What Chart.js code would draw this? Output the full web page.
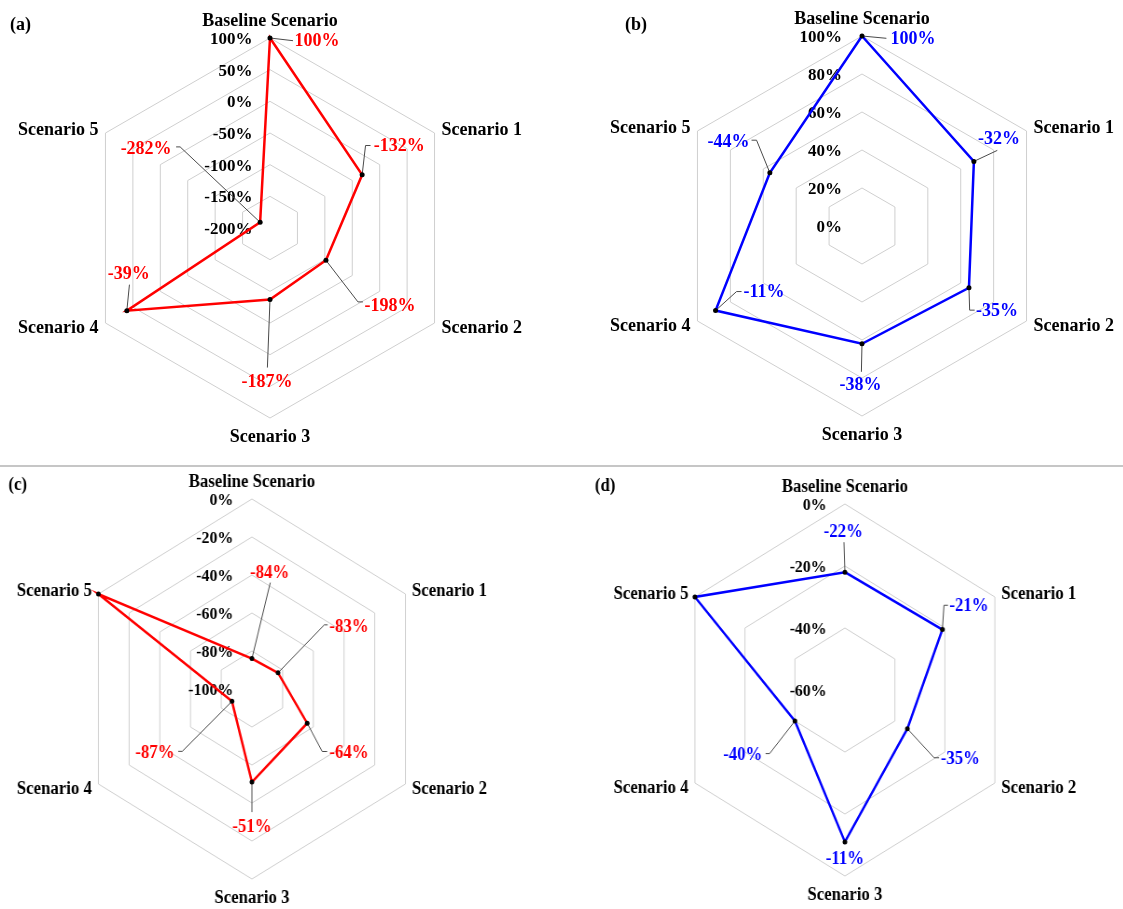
<!DOCTYPE html>
<html>
<head>
<meta charset="utf-8">
<title>Scenario radar charts</title>
<script src="https://cdn.jsdelivr.net/npm/chart.js@4.4.1/dist/chart.umd.min.js"></script>
<style>
  html, body { margin: 0; padding: 0; background: #fff; }
  body { width: 1123px; height: 909px; position: relative; overflow: hidden; }
  .panel { position: absolute; transform-origin: 0 0; }
  .panel canvas { display: block; }
  #sep { position: absolute; left: 0; top: 465px; width: 1123px; height: 2px; background: #c6c6c6; }
</style>
</head>
<body>
<div class="panel" style="left:0;top:0"><canvas id="chartA" width="560" height="460"></canvas></div>
<div class="panel" style="left:560px;top:0"><canvas id="chartB" width="563" height="460"></canvas></div>
<div class="panel" style="left:0;top:460px;transform:scaleX(0.933)"><canvas id="chartC" width="600" height="449"></canvas></div>
<div class="panel" style="left:560px;top:460px;transform:scaleX(0.931)"><canvas id="chartD" width="605" height="449"></canvas></div>
<div id="sep"></div>
<script>
// Axis categories, clockwise from the top
const categories = ['Baseline Scenario', 'Scenario 1', 'Scenario 2', 'Scenario 3', 'Scenario 4', 'Scenario 5'];

// (a) and (b): level of each scenario on the axis scale (baseline = 100 %)
const levelsA = [100, -32, -98, -87, 61, -182];
const levelsB = [100, 68, 65, 62, 89, 56];

// (c) and (d): change of each scenario, Scenario 5 is the reference (0 %)
const valuesC = [-84, -83, -64, -51, -87, 0];
const valuesD = [-22, -21, -35, -11, -40, 0];

// Radial axis tick values
const ticksA = [-200, -150, -100, -50, 0, 50, 100];
const ticksB = [0, 20, 40, 60, 80, 100];
const ticksC = [-100, -80, -60, -40, -20, 0];
const ticksD = [-60, -40, -20, 0];

// Label text: baseline shows its own level, scenarios show their change from the baseline
const changeFromBaseline = (vals) => vals.map((v, i) => (i === 0 ? v : v - vals[0]));
// Label text: each point shows its own value, the reference scenario stays unlabelled
const ownValue = (vals) => vals.map((v, i) => (i === vals.length - 1 ? null : v));

// Placement of category names around the outer ring: [dx, dy, align]
const catPlace = [
  [0, -17, 'center'],
  [7, -3, 'left'],
  [7, 5, 'left'],
  [0, 19.5, 'center'],
  [-7, 5, 'right'],
  [-7, -3, 'right']
];

// Data-label placement relative to each point: text centre and leader-line vertices
const placeA = [
  { t: [47, 3.5], l: [[23, 2.7]] },
  { t: [37, -28], l: [[3.4, -29.3], [8.4, -29.3]] },
  { t: [64, 46], l: [[32, 41.6], [37, 41.6]] },
  { t: [-3, 83], l: [[-2.6, 68]] },
  { t: [2, -36.5], l: [[2.6, -26]] },
  { t: [-114, -73], l: [[-80, -75.4], [-84, -75.4]] }
];
const placeB = [
  { t: [51, 3.3], l: [[24.4, 2.3]] },
  { t: [25, -21.7], l: [[23.4, -11]] },
  { t: [28, 24], l: [[0.7, 22.4], [5.7, 22.4]] },
  { t: [-1.5, 41.6], l: [[-0.6, 28]] },
  { t: [48.5, -18.3], l: [[21, -19], [26, -19]] },
  { t: [-41.3, -30], l: [[-13.3, -32.6], [-18.3, -32.6]] }
];
const placeC = [
  { t: [19, -85], l: [[19.7, -76]] },
  { t: [76, -45.6], l: [[49.6, -48], [53.2, -48]] },
  { t: [44.7, 30], l: [[16.1, 28.3], [21.4, 28.3]] },
  { t: [0, 45], l: [[0, 30]] },
  { t: [-82.7, 51.6], l: [[-53.3, 50], [-57.6, 50]] },
  null
];
const placeD = [
  { t: [-1.8, -40], l: [[-1, -30]] },
  { t: [28.6, -23.3], l: [[1.7, -24.3], [6, -24.3]] },
  { t: [56.8, 30.7], l: [[28.7, 29], [34, 29]] },
  { t: [0, 17.5], l: [] },
  { t: [-56.1, 34.3], l: [[-27.2, 32.6], [-31.5, 32.6]] },
  null
];

const SERIF = '"Liberation Serif", "Times New Roman", serif';

// Draws axis values, category names, data labels with leader lines and the panel letter
function makeOverlay(o) {
  return {
    id: 'overlay',
    beforeDatasetsDraw(chart) {
      const ctx = chart.ctx, r = chart.scales.r;
      ctx.save();
      // tick values beside the vertical axis
      ctx.font = 'bold 17px ' + SERIF;
      ctx.fillStyle = '#000';
      ctx.textAlign = 'right';
      ctx.textBaseline = 'middle';
      r.ticks.forEach(t => {
        const d = r.getDistanceFromCenterForValue(t.value);
        ctx.fillText(t.value + '%', r.xCenter - o.tickGap, r.yCenter - d + 1.5);
      });
      // leader lines from points to their labels
      const meta = chart.getDatasetMeta(0);
      ctx.strokeStyle = '#4a4a4a';
      ctx.lineWidth = 1;
      o.place.forEach((p, i) => {
        if (!p || p.l.length === 0 || o.labels[i] === null) return;
        const pt = meta.data[i];
        ctx.beginPath();
        ctx.moveTo(pt.x, pt.y);
        p.l.forEach(([x, y]) => ctx.lineTo(pt.x + x, pt.y + y));
        ctx.stroke();
      });
      ctx.restore();
    },
    afterDatasetsDraw(chart) {
      const ctx = chart.ctx, r = chart.scales.r;
      ctx.save();
      ctx.textBaseline = 'middle';
      // category names
      ctx.font = 'bold 18px ' + SERIF;
      ctx.fillStyle = '#000';
      chart.data.labels.forEach((lab, i) => {
        const p = r.getPointPosition(i, r.drawingArea);
        const [dx, dy, align] = catPlace[i];
        ctx.textAlign = align;
        ctx.fillText(lab, p.x + dx, p.y + dy);
      });
      // data labels
      const meta = chart.getDatasetMeta(0);
      ctx.fillStyle = o.color;
      ctx.textAlign = 'center';
      o.place.forEach((p, i) => {
        if (!p || o.labels[i] === null) return;
        const pt = meta.data[i];
        ctx.fillText(o.labels[i] + '%', pt.x + p.t[0], pt.y + p.t[1]);
      });
      // panel letter
      ctx.fillStyle = '#000';
      ctx.textAlign = 'left';
      ctx.fillText(o.letter, o.letterPos[0], o.letterPos[1]);
      ctx.restore();
    }
  };
}

function makeRadar(id, cfg) {
  return new Chart(document.getElementById(id), {
    type: 'radar',
    data: {
      labels: categories,
      datasets: [{
        data: cfg.values,
        borderColor: cfg.color,
        borderWidth: 2.5,
        pointRadius: 2.5,
        pointBackgroundColor: '#000',
        pointBorderColor: '#000',
        pointBorderWidth: 0,
        fill: false,
        tension: 0
      }]
    },
    options: {
      responsive: false,
      animation: false,
      devicePixelRatio: 1,
      layout: { padding: cfg.pad },
      plugins: {
        legend: { display: false },
        tooltip: { enabled: false }
      },
      scales: {
        r: {
          min: cfg.ticks[0],
          max: cfg.ticks[cfg.ticks.length - 1],
          afterBuildTicks: (s) => { s.ticks = cfg.ticks.map(v => ({ value: v })); },
          ticks: { display: false },
          pointLabels: { display: false },
          angleLines: { display: false },
          grid: { color: '#cfcfcf', lineWidth: 1 }
        }
      }
    },
    plugins: [makeOverlay(cfg)]
  });
}

makeRadar('chartA', {
  values: levelsA, labels: changeFromBaseline(levelsA), ticks: ticksA, color: '#ff0000',
  place: placeA, pad: { left: 80, top: 38, right: 100, bottom: 42 },
  tickGap: 17.5, letter: '(a)', letterPos: [10, 25]
});
makeRadar('chartB', {
  values: levelsB, labels: changeFromBaseline(levelsB), ticks: ticksB, color: '#0000ff',
  place: placeB, pad: { left: 112, top: 36, right: 71, bottom: 44 },
  tickGap: 20, letter: '(b)', letterPos: [65, 25]
});
makeRadar('chartC', {
  values: valuesC, labels: ownValue(valuesC), ticks: ticksC, color: '#ff0000',
  place: placeC, pad: { left: 80, top: 39, right: 140, bottom: 30 },
  tickGap: 20, letter: '(c)', letterPos: [9, 25]
});
makeRadar('chartD', {
  values: valuesD, labels: ownValue(valuesD), ticks: ticksD, color: '#0000ff',
  place: placeD, pad: { left: 120, top: 44, right: 113, bottom: 33 },
  tickGap: 19.7, letter: '(d)', letterPos: [37.6, 26]
});
</script>
</body>
</html>
